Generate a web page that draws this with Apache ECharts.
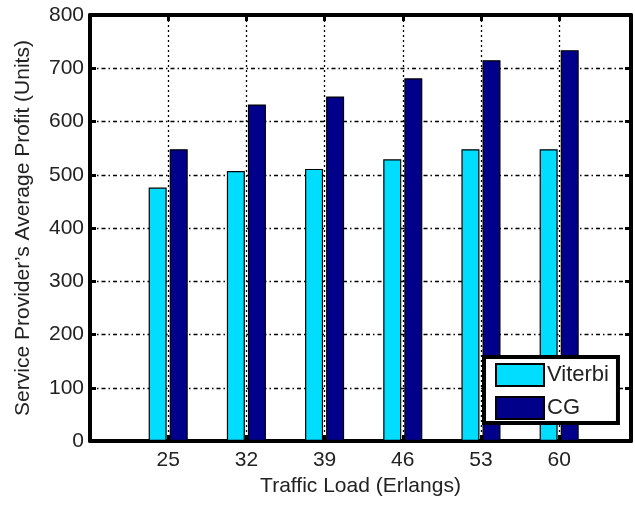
<!DOCTYPE html>
<html>
<head>
<meta charset="utf-8">
<script src="https://cdn.jsdelivr.net/npm/echarts@6/dist/echarts.min.js"></script>
<style>
html,body{margin:0;padding:0;background:#fff;}
#chart{width:635px;height:505px;}
</style>
</head>
<body>
<div id="chart"></div>
<script>
const categories = [25, 32, 39, 46, 53, 60];
const viterbi = [476, 507, 511, 529, 548, 548];
const cg = [548, 632, 647, 681, 715, 734];
const yTicks = [0, 100, 200, 300, 400, 500, 600, 700, 800];

const FONT = 'Liberation Sans, Arial, Helvetica, sans-serif';
const TXT = '#222';

const chart = echarts.init(document.getElementById('chart'), null, {renderer: 'canvas'});

const xBase = {
  type: 'value', min: 18, max: 66.43,
  axisTick: {show: true, inside: true, length: 6, lineStyle: {color: '#000', width: 3}, customValues: categories},
  axisLine: {show: true, onZero: false, lineStyle: {color: '#000', width: 4}}
};

chart.setOption({
  animation: false,
  grid: {left: 90, top: 15, width: 541, height: 426, containLabel: false},
  legend: {
    orient: 'vertical', left: 484, top: 357,
    icon: 'rect',
    itemWidth: 48, itemHeight: 22, itemGap: 9,
    padding: [6, 9, 3, 11],
    backgroundColor: '#fff', borderColor: '#000', borderWidth: 4,
    textStyle: {fontFamily: FONT, fontSize: 22, color: TXT, padding: [0, 0, 0, -2]},
    data: ['Viterbi', 'CG']
  },
  xAxis: [
    Object.assign({}, xBase, {
      position: 'bottom',
      name: 'Traffic Load (Erlangs)', nameLocation: 'middle', nameGap: 32,
      nameTextStyle: {fontFamily: FONT, fontSize: 21, color: TXT},
      axisLabel: {show: true, customValues: categories, margin: 9, fontFamily: FONT, fontSize: 21, color: TXT},
      splitLine: {show: true, lineStyle: {color: '#000', width: 1.3, type: [2, 3]}}
    }),
    Object.assign({}, xBase, {
      position: 'top',
      axisLabel: {show: false},
      splitLine: {show: false}
    })
  ],
  yAxis: [
    {
      type: 'value', min: 0, max: 800, interval: 100, position: 'left',
      name: 'Service Provider\u2019s Average Profit (Units)', nameLocation: 'middle', nameGap: 56,
      nameTextStyle: {fontFamily: FONT, fontSize: 21, color: TXT},
      axisLine: {show: true, lineStyle: {color: '#000', width: 4}},
      axisTick: {show: true, inside: true, length: 6, lineStyle: {color: '#000', width: 3}},
      axisLabel: {margin: 6, fontFamily: FONT, fontSize: 21, color: TXT},
      splitLine: {show: true, lineStyle: {color: '#000', width: 1.3, type: [4, 3, 1.5, 3]}}
    },
    {
      type: 'value', min: 0, max: 800, interval: 100, position: 'right',
      axisLine: {show: true, lineStyle: {color: '#000', width: 4}},
      axisTick: {show: true, inside: true, length: 6, lineStyle: {color: '#000', width: 3}},
      axisLabel: {show: false},
      splitLine: {show: false}
    }
  ],
  series: [
    {
      name: 'Viterbi', type: 'bar', xAxisIndex: 0, yAxisIndex: 0,
      barWidth: 18, barGap: '17%',
      itemStyle: {color: '#00DDFF', borderColor: '#000', borderWidth: 1.2},
      data: categories.map((c, i) => [c, viterbi[i]])
    },
    {
      name: 'CG', type: 'bar', xAxisIndex: 0, yAxisIndex: 0,
      barWidth: 18, barGap: '17%',
      itemStyle: {color: '#00008B', borderColor: '#000', borderWidth: 1.2},
      data: categories.map((c, i) => [c, cg[i]])
    }
  ]
});
</script>
</body>
</html>
